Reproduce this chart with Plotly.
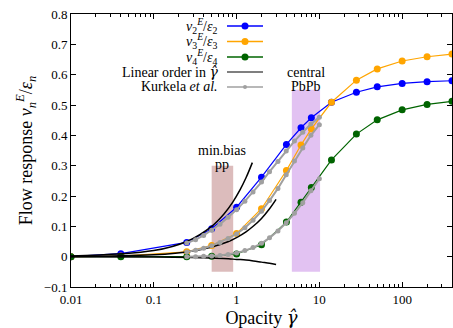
import numpy as np
import plotly.graph_objects as go

# ---- data ----
gamma = [0.01, 0.04, 0.25, 0.5, 1, 2, 4, 6, 8, 14, 28, 50, 100, 200, 400]
v2 = [0.0, 0.010, 0.047, 0.092, 0.163, 0.262, 0.370, 0.425, 0.458, 0.509, 0.542, 0.560, 0.571, 0.577, 0.580]
v3 = [0.0, 0.002, 0.016, 0.037, 0.076, 0.158, 0.284, 0.368, 0.421, 0.509, 0.582, 0.619, 0.645, 0.659, 0.668]
v4 = [0.0, 0.0, 0.0, 0.001, 0.009, 0.039, 0.114, 0.179, 0.228, 0.319, 0.404, 0.451, 0.484, 0.502, 0.512]

lin2_g = [0.01, 0.1, 0.25, 0.5, 0.7, 0.9, 1.1, 1.3, 1.55]
lin2_v = [0.002, 0.02, 0.05, 0.10, 0.14, 0.18, 0.22, 0.26, 0.31]
lin3_g = [0.01, 0.1, 0.3, 0.5, 0.8, 1.0, 1.3, 1.6, 2.0, 2.5, 3.0]
lin3_v = [0.0006, 0.006, 0.019, 0.032, 0.050, 0.063, 0.082, 0.101, 0.126, 0.158, 0.189]
lin4_g = [0.01, 0.1, 0.3, 0.5, 0.8, 1.0, 1.3, 1.6, 2.0, 2.5, 3.0]
lin4_v = [0.0, -0.001, -0.003, -0.004, -0.007, -0.009, -0.011, -0.014, -0.018, -0.022, -0.026]

kurk_g = [0.25, 0.32, 0.40, 0.50, 0.63, 0.79, 1.0, 1.26, 1.58, 2.0, 2.5, 3.16, 3.98, 5.0, 6.3, 7.9, 10]
kurk2 = [0.045, 0.056, 0.070, 0.087, 0.107, 0.130, 0.155, 0.183, 0.213, 0.246, 0.280, 0.314, 0.348, 0.381, 0.410, 0.437, 0.460]
kurk3 = [0.015, 0.021, 0.028, 0.036, 0.047, 0.060, 0.075, 0.095, 0.120, 0.150, 0.185, 0.225, 0.270, 0.315, 0.358, 0.400, 0.435]
kurk4 = [0.0, 0.0, 0.001, 0.002, 0.004, 0.007, 0.012, 0.020, 0.030, 0.044, 0.062, 0.085, 0.112, 0.143, 0.178, 0.217, 0.257]

pp_band = [0.5, 0.91]
pp_top = 0.30
pbpb_band = [4.65, 10.2]
pbpb_top = 0.55
band_bottom = -0.05

xticks = [0.01, 0.1, 1, 10, 100]
xticklabels = ["0.01", "0.1", "1", "10", "100"]

FONT = "Liberation Serif"
BLUE, ORANGE, GREEN, GRAY = "#0000ff", "#ffa500", "#006400", "#a0a0a0"
GHAT = "<span style='font-family:DejaVu Serif'><i>γ̂</i></span>"

fig = go.Figure()

for g, v, c in [(gamma, v2, BLUE), (gamma, v3, ORANGE), (gamma, v4, GREEN)]:
    fig.add_trace(go.Scatter(x=g, y=v, mode="lines+markers",
                             line=dict(color=c, width=1.2),
                             marker=dict(color=c, size=7), showlegend=False))

for g, v in [(lin2_g, lin2_v), (lin3_g, lin3_v), (lin4_g, lin4_v)]:
    fig.add_trace(go.Scatter(x=g, y=v, mode="lines", line=dict(color="black", width=1.5, shape="spline"),
                             showlegend=False))

for v in [kurk2, kurk3, kurk4]:
    fig.add_trace(go.Scatter(x=kurk_g, y=v, mode="lines+markers",
                             line=dict(color=GRAY, width=2),
                             marker=dict(color=GRAY, size=5), showlegend=False))

shapes = []
for band, top, col in [(pp_band, pp_top, "#dcbcbc"), (pbpb_band, pbpb_top, "#e2c2f2")]:
    shapes.append(dict(type="rect", xref="x", yref="y", layer="below",
                       x0=band[0], x1=band[1], y0=band_bottom, y1=top,
                       fillcolor=col, line=dict(width=0)))

W, H = 453, 328
L, R, T, B = 71, 1, 14, 41
pw, ph = W - L - R, H - T - B
def px(xp):
    return (xp - L) / pw
def py(yp):
    return 1 - (yp - T) / ph

annotations = []
for band, lines, ys in [(pp_band, ["min.bias", "pp"], [150, 164]),
                        (pbpb_band, ["central", "PbPb"], [72, 87])]:
    for txt, yy in zip(lines, ys):
        annotations.append(dict(x=np.log10(np.sqrt(band[0] * band[1])), y=py(yy), xref="x", yref="paper",
                                text=txt, showarrow=False, yanchor="middle",
                                font=dict(family=FONT, size=14, color="black")))

# manual gnuplot-style legend
legend_items = [
    ("<i>v</i><sub>2</sub><sup><i>E</i></sup>/<i>ε</i><sub>2</sub>", BLUE, True, 7),
    ("<i>v</i><sub>3</sub><sup><i>E</i></sup>/<i>ε</i><sub>3</sub>", ORANGE, True, 7),
    ("<i>v</i><sub>4</sub><sup><i>E</i></sup>/<i>ε</i><sub>4</sub>", GREEN, True, 7),
    ("Linear order in " + GHAT, "#555555", False, 0),
    ("Kurkela <i>et al.</i>", GRAY, True, 4),
]
rows = [26, 41.5, 57, 72, 87]
for (txt, col, mk, ms), yy in zip(legend_items, rows):
    annotations.append(dict(x=px(220), y=py(yy), xref="paper", yref="paper", text=txt,
                            showarrow=False, xanchor="right", yanchor="middle",
                            font=dict(family=FONT, size=14, color="black")))
    shapes.append(dict(type="line", xref="paper", yref="paper", x0=px(227), x1=px(263),
                       y0=py(yy), y1=py(yy), line=dict(color=col, width=1.5)))
    if mk:
        shapes.append(dict(type="circle", xref="paper", yref="paper", xsizemode="pixel",
                           ysizemode="pixel", xanchor=px(245), yanchor=py(yy),
                           x0=-ms / 2, x1=ms / 2, y0=-ms / 2, y1=ms / 2,
                           fillcolor=col, line=dict(color=col, width=0)))

fig.update_layout(
    width=W, height=H, margin=dict(l=L, r=R, t=T, b=B),
    paper_bgcolor="white", plot_bgcolor="white",
    font=dict(family=FONT, size=13, color="black"),
    shapes=shapes, annotations=annotations, showlegend=False,
)
fig.update_xaxes(type="log", range=[-2, 2.602], tickvals=xticks, ticktext=xticklabels,
                 showline=True, linecolor="black", linewidth=1, mirror="ticks",
                 ticks="inside", ticklen=5, tickcolor="black", showgrid=False, zeroline=False,
                 minor=dict(ticks="inside", ticklen=3, tickcolor="black", dtick="D1", showgrid=False),
                 tickfont=dict(family=FONT, size=13),
                 title=dict(text="Opacity " + GHAT, font=dict(family=FONT, size=18), standoff=4))
fig.update_yaxes(range=[-0.1, 0.8], dtick=0.1, tick0=0,
                 showline=True, linecolor="black", linewidth=1, mirror="ticks",
                 ticks="inside", ticklen=5, tickcolor="black", showgrid=False, zeroline=False,
                 tickfont=dict(family=FONT, size=13),
                 title=dict(text="Flow response <i>v</i><sub><i>n</i></sub><sup><i>E</i></sup>/<i>ε</i><sub><i>n</i></sub>",
                            font=dict(family=FONT, size=18), standoff=6))

fig.write_html("out.html")
